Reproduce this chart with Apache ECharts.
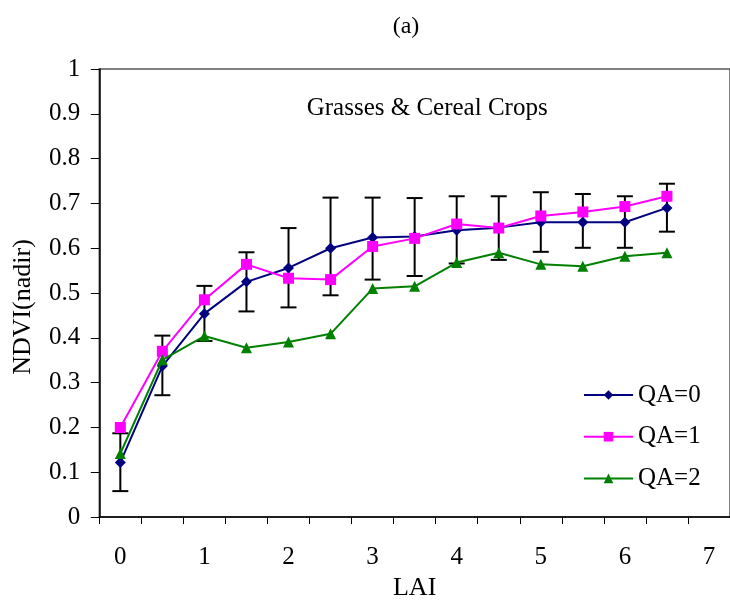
<!DOCTYPE html>
<html>
<head>
<meta charset="utf-8">
<script src="https://cdn.jsdelivr.net/npm/echarts@6/dist/echarts.min.js"></script>
<style>html,body{margin:0;padding:0;background:#fff}#c{width:730px;height:606px}</style>
</head>
<body>
<div id="c"></div>
<script>
var categories = ['0','0.5','1','1.5','2','2.5','3','3.5','4','4.5','5','5.5','6','6.5','7'];
var seriesNames = ['QA=0','QA=1','QA=2'];
var qa0 = [0.122, 0.337, 0.454, 0.525, 0.556, 0.600, 0.624, 0.626, 0.640, 0.646, 0.658, 0.658, 0.658, 0.690];
var qa1 = [0.200, 0.370, 0.485, 0.564, 0.533, 0.530, 0.604, 0.622, 0.654, 0.645, 0.672, 0.681, 0.693, 0.716];
var qa2 = [0.142, 0.351, 0.404, 0.378, 0.391, 0.409, 0.510, 0.515, 0.568, 0.590, 0.564, 0.560, 0.582, 0.590];
var errLow  = [0.058, 0.272, 0.393, 0.459, 0.468, 0.495, 0.530, 0.538, 0.566, 0.574, 0.592, 0.601, 0.601, 0.637];
var errHigh = [0.187, 0.405, 0.516, 0.591, 0.645, 0.713, 0.713, 0.712, 0.716, 0.716, 0.725, 0.721, 0.716, 0.744];
var titleText = '(a)';
var noteText = 'Grasses & Cereal Crops';
var xName = 'LAI';
var yName = 'NDVI(nadir)';

var FONT = '"Liberation Serif", "Times New Roman", serif';
var errData = errLow.map(function (lo, i) { return [i, lo, errHigh[i]]; });

var chart = echarts.init(document.getElementById('c'), null, {renderer: 'canvas'});
chart.setOption({
  animation: false,
  backgroundColor: '#fff',
  textStyle: {fontFamily: FONT, color: '#000'},
  grid: {left: 99.3, top: 69, right: -4.6, bottom: 87, show: true, borderColor: '#555', borderWidth: 1.5, containLabel: false},
  graphic: [
    {type: 'text', x: 406, y: 27, style: {text: titleText, fontSize: 24, fontFamily: FONT, fill: '#000', align: 'center', verticalAlign: 'middle'}},
    {type: 'text', x: 306.7, y: 108, style: {text: noteText, fontSize: 25, fontFamily: FONT, fill: '#000', align: 'left', verticalAlign: 'middle'}},
    {type: 'text', x: 23, y: 307, rotation: Math.PI / 2, style: {text: yName, fontSize: 26, fontFamily: FONT, fill: '#000', align: 'center', verticalAlign: 'middle'}}
  ],
  legend: {
    orient: 'vertical', left: 583, top: 382.5, padding: 0, itemWidth: 49, itemHeight: 12, itemGap: 16.7,
    data: seriesNames,
    textStyle: {fontFamily: FONT, fontSize: 25, color: '#000', lineHeight: 25}
  },
  xAxis: {
    type: 'category', data: categories, boundaryGap: true,
    name: xName, nameLocation: 'middle', nameGap: 52,
    nameTextStyle: {fontFamily: FONT, fontSize: 26, color: '#000'},
    axisLine: {lineStyle: {color: '#000', width: 1.5}},
    axisTick: {show: true, interval: 0, inside: false, length: 7, lineStyle: {color: '#000', width: 1}},
    axisLabel: {interval: 1, margin: 28, fontFamily: FONT, fontSize: 25, color: '#000'},
    splitLine: {show: false}
  },
  yAxis: {
    type: 'value', min: 0, max: 1, interval: 0.1,
    axisLine: {show: true, lineStyle: {color: '#000', width: 1.5}},
    axisTick: {show: true, inside: false, length: 8.5, lineStyle: {color: '#000', width: 1}},
    axisLabel: {margin: 19, fontFamily: FONT, fontSize: 25, color: '#000'},
    splitLine: {show: false}
  },
  series: [
    {
      type: 'custom', name: 'err', z: 1, silent: true,
      data: errData,
      encode: {x: 0, y: [1, 2]},
      renderItem: function (params, api) {
        var idx = api.value(0);
        var top = api.coord([idx, api.value(2)]);
        var bot = api.coord([idx, api.value(1)]);
        var hw = 8;
        var st = {stroke: '#000', lineWidth: 2};
        return {type: 'group', children: [
          {type: 'line', shape: {x1: top[0], y1: top[1], x2: bot[0], y2: bot[1]}, style: st},
          {type: 'line', shape: {x1: top[0] - hw, y1: top[1], x2: top[0] + hw, y2: top[1]}, style: st},
          {type: 'line', shape: {x1: bot[0] - hw, y1: bot[1], x2: bot[0] + hw, y2: bot[1]}, style: st}
        ]};
      }
    },
    {type: 'line', name: seriesNames[0], data: qa0, z: 3, symbol: 'diamond', symbolSize: 11,
      itemStyle: {color: '#000080'}, lineStyle: {color: '#000080', width: 2}},
    {type: 'line', name: seriesNames[1], data: qa1, z: 4, symbol: 'rect', symbolSize: 11,
      itemStyle: {color: '#FF00FF'}, lineStyle: {color: '#FF00FF', width: 2}},
    {type: 'line', name: seriesNames[2], data: qa2, z: 5, symbol: 'triangle', symbolSize: 11,
      itemStyle: {color: '#008000'}, lineStyle: {color: '#008000', width: 2}}
  ]
});
</script>
</body>
</html>
